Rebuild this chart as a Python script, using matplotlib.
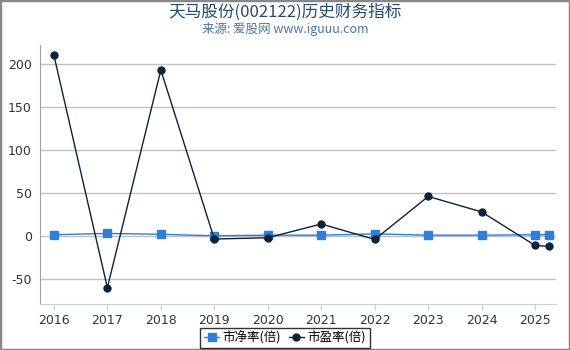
import matplotlib
matplotlib.use("Agg")
import matplotlib.pyplot as plt
from matplotlib.patches import Rectangle

plt.rcParams['font.family'] = ['Noto Sans CJK SC', 'DejaVu Sans']
plt.rcParams['axes.unicode_minus'] = False

x_pos = [2016, 2017, 2018, 2019, 2020, 2021, 2022, 2023, 2024, 2025, 2025.25]
pb = [1.5, 3.0, 2.0, 0.3, 1.0, 1.0, 2.5, 1.0, 1.0, 1.5, 1.5]
pe = [210, -60, 193, -3.5, -2, 14, -4, 46, 28, -11, -12]
xticks = [2016, 2017, 2018, 2019, 2020, 2021, 2022, 2023, 2024, 2025]
yticks = [-50, 0, 50, 100, 150, 200]
title = "天马股份(002122)历史财务指标"
subtitle = "来源: 爱股网 www.iguuu.com"
labels = ["市净率(倍)", "市盈率(倍)"]

fig = plt.figure(figsize=(5.7, 3.5), dpi=100)
ax = fig.add_axes([40/570, 46/350, 516/570, 259/350])

ax.plot(x_pos, pb, color='#2f7ed8', lw=1, marker='s', ms=5.5, label=labels[0], zorder=3)
ax.plot(x_pos, pe, color='#0d233a', lw=1, marker='o', ms=5, label=labels[1], zorder=4)

ax.set_xlim(2015.74, 2025.39)
ax.set_ylim(-79, 222)
ax.set_xticks(xticks)
ax.set_xticklabels([str(t) for t in xticks], family='DejaVu Sans')
ax.set_yticks(yticks)
ax.set_yticklabels([str(t) for t in yticks], family='DejaVu Sans')
ax.grid(axis='y', color='#c0c0c0', lw=1)
ax.set_axisbelow(True)
for s in ['top', 'right']:
    ax.spines[s].set_visible(False)
ax.spines['left'].set_color('#a0a0a0')
ax.spines['bottom'].set_color('#c0d0e0')
ax.tick_params(axis='y', length=0, labelsize=9, colors='#333333', pad=6)
ax.tick_params(axis='x', length=4, color='#c0d0e0', labelsize=9, colors='#333333', pad=3)

fig.text(0.5, 1 - 12/350, title, ha='center', va='center', fontsize=12, color='#274b6d')
fig.text(0.5, 1 - 29/350, subtitle, ha='center', va='center', fontsize=9, color='#4d759e')

leg = fig.legend(loc='center', bbox_to_anchor=(0.5, 1 - 338/350), ncol=2, frameon=True,
                 fontsize=9, handlelength=1.2, handletextpad=0.3, columnspacing=0.6,
                 borderpad=0.3, fancybox=False, edgecolor='black')
leg.get_frame().set_linewidth(1)

fig.patches.append(Rectangle((0, 0), 1, 1, transform=fig.transFigure, fill=False,
                             edgecolor='#888888', lw=2.5))

fig.savefig('out.png', dpi=100)
